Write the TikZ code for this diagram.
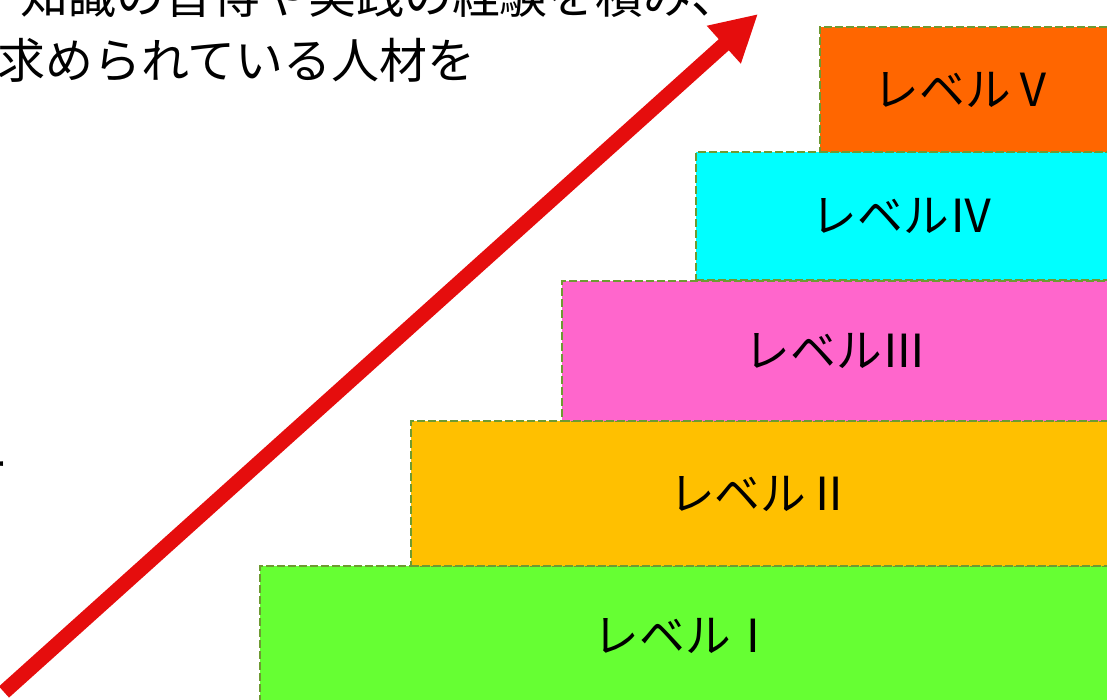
\documentclass[tikz,border=0pt]{standalone}
\usepackage{fontspec}
\setmainfont{Noto Sans CJK JP}
\usepackage{tikz}
\usetikzlibrary{arrows.meta}
\definecolor{lvOne}{HTML}{66FF33}
\definecolor{lvTwo}{HTML}{FFC000}
\definecolor{lvThree}{HTML}{FF66CC}
\definecolor{lvFour}{HTML}{00FFFF}
\definecolor{lvFive}{HTML}{FF6600}
\definecolor{rimGreen}{HTML}{6E9A32}
\definecolor{arrowRed}{HTML}{E50D0D}

\begin{document}
\begin{tikzpicture}[x=0.02cm,y=-0.02cm]
	\tikzstyle{level}=[rectangle,draw=rimGreen,line width=0.05cm,dash pattern=on 0.16cm off 0.06cm,inner sep=0pt,font=\fontsize{26}{31}\selectfont]
	\tikzstyle{caption}=[inner sep=0pt,font=\fontsize{27.3}{33}\selectfont]
	\useasboundingbox (0,0) rectangle (1107,700);
	\node[level,fill=lvOne,minimum width=17cm,minimum height=2.8cm](lv1) at (685,636) {レベルⅠ};
	\node[level,fill=lvTwo,minimum width=13.98cm,minimum height=2.9cm](lv2) at (760.5,493.5) {レベルⅡ};
	\node[level,fill=lvThree,minimum width=10.96cm,minimum height=2.8cm](lv3) at (836,351) {レベルⅢ};
	\node[level,fill=lvFour,minimum width=8.28cm,minimum height=2.56cm](lv4) at (903,216) {レベルⅣ};
	\node[level,fill=lvFive,minimum width=5.8cm,minimum height=2.5cm](lv5) at (965,89.5) {レベルⅤ};
	\node[caption,anchor=base west](line1) at (20,13) {知識の習得や実践の経験を積み、};
	\node[caption,anchor=base west](line2) at (-3,78) {求められている人材を};
	\node[caption,anchor=east](frag) at (9,472) {ー};
	\coordinate (tail) at (4,692);
	\coordinate (tip) at (758,14);
	\draw[-{Triangle[length=0.92cm,width=0.95cm]},color=arrowRed,line width=0.3cm](tail) -- (tip);
\end{tikzpicture}
\end{document}
